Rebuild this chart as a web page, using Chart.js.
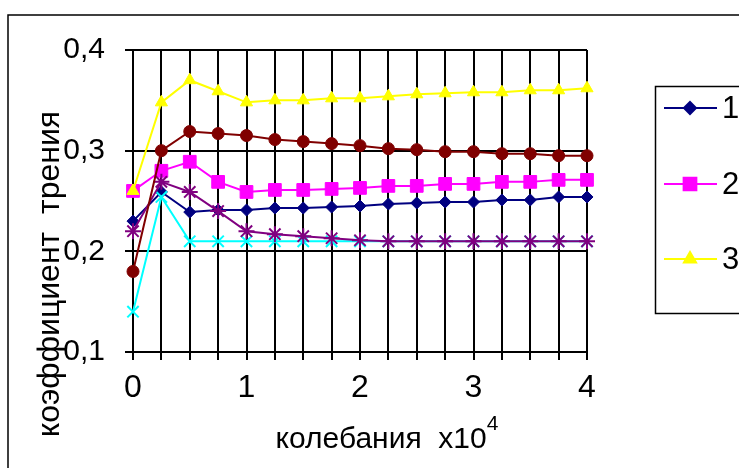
<!DOCTYPE html>
<html>
<head>
<meta charset="utf-8">
<script src="https://cdn.jsdelivr.net/npm/chart.js@4/dist/chart.umd.min.js"></script>
<style>
  html, body { margin: 0; padding: 0; background: #fff; }
  canvas { display: block; }
</style>
</head>
<body>
<canvas id="frictionChart" width="739" height="468"></canvas>
<script>
const oscillations = [0, 0.25, 0.5, 0.75, 1, 1.25, 1.5, 1.75, 2, 2.25, 2.5, 2.75, 3, 3.25, 3.5, 3.75, 4];

const series1 = [0.23, 0.259, 0.239, 0.241, 0.241, 0.243, 0.243, 0.244, 0.245, 0.247, 0.248, 0.249, 0.249, 0.251, 0.251, 0.254, 0.254];
const series2 = [0.26, 0.28, 0.289, 0.269, 0.259, 0.261, 0.261, 0.262, 0.263, 0.265, 0.265, 0.267, 0.267, 0.269, 0.269, 0.271, 0.271];
const series3 = [0.26, 0.348, 0.37, 0.359, 0.348, 0.35, 0.35, 0.352, 0.352, 0.354, 0.356, 0.357, 0.358, 0.358, 0.36, 0.36, 0.362];
const series4 = [0.14, 0.254, 0.21, 0.21, 0.21, 0.21, 0.21, 0.21, 0.21, 0.21, 0.21, 0.21, 0.21, 0.21, 0.21, 0.21, 0.21];
const series5 = [0.22, 0.269, 0.259, 0.24, 0.22, 0.217, 0.215, 0.213, 0.211, 0.21, 0.21, 0.21, 0.21, 0.21, 0.21, 0.21, 0.21];
const series6 = [0.18, 0.3, 0.319, 0.317, 0.315, 0.311, 0.309, 0.307, 0.305, 0.302, 0.301, 0.299, 0.299, 0.297, 0.297, 0.295, 0.295];

const seriesNames = ['1', '2', '3', '4', '5', '6'];
const yTicks = [0.1, 0.2, 0.3, 0.4];
const xLabelTicks = [0, 1, 2, 3, 4];
const yTitle = 'коэффициент  трения';
const xTitle = 'колебания  x10';
const xTitleSup = '4';

const FONT = '"Liberation Sans", Arial, sans-serif';

function makeSet(i, values, color, style, radius, bw) {
  return {
    label: seriesNames[i],
    data: values.map((v, k) => ({ x: oscillations[k], y: v })),
    borderColor: color,
    backgroundColor: color,
    borderWidth: 2,
    pointStyle: style,
    pointRadius: radius,
    pointBorderWidth: bw,
    pointBackgroundColor: color,
    pointBorderColor: color,
    tension: 0,
    clip: false,
    order: 5 - i
  };
}

const datasets = [
  makeSet(0, series1, '#000080', 'rectRot', 6, 1),
  makeSet(1, series2, '#ff00ff', 'rect', 9, 1),
  makeSet(2, series3, '#ffff00', 'triangle', 7, 1),
  makeSet(3, series4, '#00ffff', 'crossRot', 8, 2),
  makeSet(4, series5, '#800080', 'star', 8, 2),
  makeSet(5, series6, '#800000', 'circle', 6, 1)
];

// frame, axis titles and the (cut off) legend box
const extras = {
  id: 'extras',
  beforeDraw(chart) {
    const ctx = chart.ctx;
    ctx.save();
    ctx.fillStyle = '#fff';
    ctx.fillRect(0, 0, chart.width, chart.height);
    ctx.restore();
  },
  afterDraw(chart) {
    const ctx = chart.ctx;
    ctx.save();
    ctx.strokeStyle = '#000';
    ctx.lineWidth = 1.5;
    ctx.strokeRect(8, 15, 900, 600);

    // y title
    ctx.fillStyle = '#000';
    ctx.font = '32px ' + FONT;
    ctx.textAlign = 'center';
    ctx.textBaseline = 'alphabetic';
    ctx.save();
    ctx.translate(59, 274);
    ctx.rotate(-Math.PI / 2);
    ctx.fillText(yTitle, 0, 0);
    ctx.restore();

    // x title with superscript
    ctx.font = '30px ' + FONT;
    const wMain = ctx.measureText(xTitle).width;
    ctx.font = '21px ' + FONT;
    const wSup = ctx.measureText(xTitleSup).width;
    const startX = 387 - (wMain + wSup) / 2;
    ctx.textAlign = 'left';
    ctx.font = '30px ' + FONT;
    ctx.fillText(xTitle, startX, 448);
    ctx.font = '21px ' + FONT;
    ctx.fillText(xTitleSup, startX + wMain, 430);

    // legend (only first three fit)
    ctx.strokeRect(655.5, 86.5, 300, 227);
    const rows = [108, 184, 259];
    rows.forEach((y, i) => {
      const ds = chart.data.datasets[i];
      ctx.strokeStyle = ds.borderColor;
      ctx.lineWidth = 2;
      ctx.beginPath();
      ctx.moveTo(664, y);
      ctx.lineTo(717, y);
      ctx.stroke();
      ctx.fillStyle = ds.pointBackgroundColor;
      Chart.helpers.drawPoint(ctx, {
        pointStyle: ds.pointStyle,
        radius: ds.pointRadius,
        borderWidth: ds.pointBorderWidth
      }, 690, y);
      ctx.fillStyle = '#000';
      ctx.font = '31px ' + FONT;
      ctx.textAlign = 'left';
      ctx.textBaseline = 'middle';
      ctx.fillText(ds.label, 722, y + 1);
    });
    ctx.restore();
  }
};

new Chart(document.getElementById('frictionChart'), {
  type: 'line',
  data: { datasets },
  plugins: [extras],
  options: {
    responsive: false,
    animation: false,
    events: [],
    layout: { padding: { left: 0, top: 50, right: 152, bottom: 0 } },
    plugins: {
      legend: { display: false },
      tooltip: { enabled: false }
    },
    scales: {
      x: {
        type: 'linear',
        min: 0,
        max: 4,
        afterFit: (scale) => { scale.height = 116; },
        afterBuildTicks: (scale) => {
          scale.ticks = oscillations.map(v => ({ value: v }));
        },
        ticks: {
          autoSkip: false,
          maxRotation: 0,
          padding: 9,
          color: '#000',
          font: { family: FONT, size: 32 },
          callback: (v) => xLabelTicks.includes(v) ? String(v) : ''
        },
        grid: { color: '#000', lineWidth: 2, tickLength: 8, tickColor: '#000', tickWidth: 2 },
        border: { color: '#000', width: 2 }
      },
      y: {
        min: 0.1,
        max: 0.4,
        afterFit: (scale) => { scale.width = 133; },
        afterBuildTicks: (scale) => {
          scale.ticks = yTicks.map(v => ({ value: v }));
        },
        ticks: {
          padding: 20,
          color: '#000',
          font: { family: FONT, size: 30 },
          callback: (v) => v.toFixed(1).replace('.', ',')
        },
        grid: { color: '#000', lineWidth: 2, tickLength: 8, tickColor: '#000', tickWidth: 2 },
        border: { color: '#000', width: 2 }
      }
    }
  }
});
</script>
</body>
</html>
